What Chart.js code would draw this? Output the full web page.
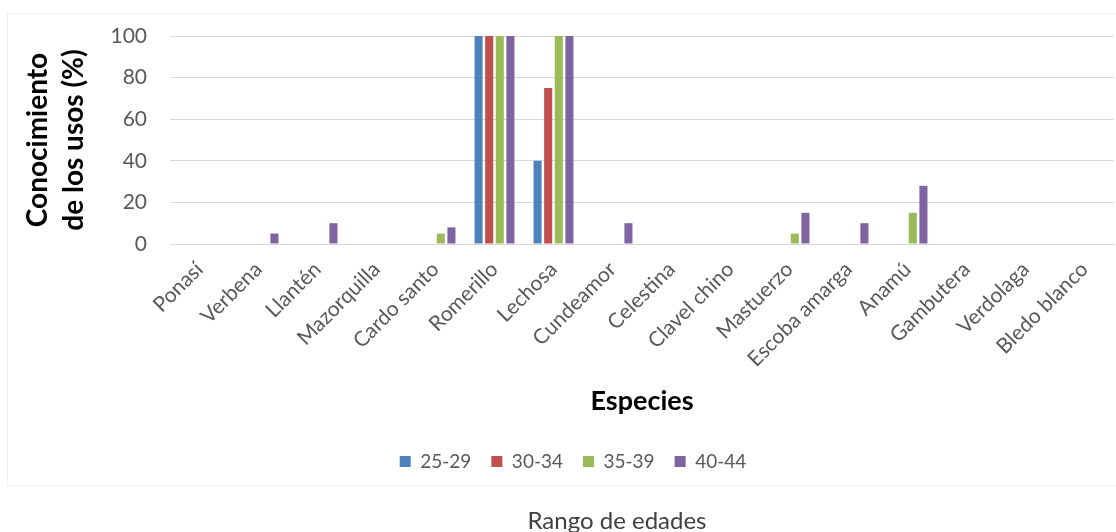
<!DOCTYPE html>
<html lang="es">
<head>
<meta charset="utf-8">
<title>Conocimiento de los usos por especie</title>
<script src="https://cdn.jsdelivr.net/npm/chart.js@4/dist/chart.umd.min.js"></script>
<style>
  html, body { margin: 0; padding: 0; background: #ffffff; }
  body { width: 1116px; height: 532px; position: relative; overflow: hidden; font-family: Lato, "Open Sans", sans-serif; }
  #frame { position: absolute; left: 7px; top: 13px; width: 1120px; height: 471px; border: 1px solid #efefef; background: #ffffff; }
  #chart { position: absolute; left: 0; top: 0; }
  #footer { position: absolute; left: 507px; width: 220px; top: 506px; text-align: center; font-size: 24px; color: #404040; line-height: 28px; }
</style>
</head>
<body>
<div id="frame"></div>
<canvas id="chart" width="1116" height="532"></canvas>
<div id="footer">Rango de edades</div>
<script>
// Species surveyed
const especies = ['Ponasí', 'Verbena', 'Llantén', 'Mazorquilla', 'Cardo santo', 'Romerillo', 'Lechosa',
  'Cundeamor', 'Celestina', 'Clavel chino', 'Mastuerzo', 'Escoba amarga', 'Anamú', 'Gambutera',
  'Verdolaga', 'Bledo blanco'];

// Knowledge of uses (%) by age range
const edad25_29 = [0, 0, 0, 0, 0, 100, 40, 0, 0, 0, 0, 0, 0, 0, 0, 0];
const edad30_34 = [0, 0, 0, 0, 0, 100, 75, 0, 0, 0, 0, 0, 0, 0, 0, 0];
const edad35_39 = [0, 0, 0, 0, 5, 100, 100, 0, 0, 0, 5, 0, 15, 0, 0, 0];
const edad40_44 = [0, 5, 10, 0, 8, 100, 100, 10, 0, 0, 15, 10, 28, 0, 0, 0];

const rangos = ['25-29', '30-34', '35-39', '40-44'];
const yTicks = [0, 20, 40, 60, 80, 100];

const colores = ['#4F81BD', '#C0504D', '#9BBB59', '#8064A2'];
const series = [edad25_29, edad30_34, edad35_39, edad40_44];

const gris = '#595959';
const fuente = 'Lato, "Open Sans", sans-serif';

new Chart(document.getElementById('chart'), {
  type: 'bar',
  data: {
    labels: especies,
    datasets: series.map((valores, i) => ({
      label: rangos[i],
      data: valores,
      backgroundColor: colores[i],
      borderWidth: 0,
      categoryPercentage: 0.72,
      barPercentage: 0.76
    }))
  },
  options: {
    responsive: false,
    animation: false,
    devicePixelRatio: 1,
    layout: { padding: { left: 32, right: 2, top: 36, bottom: 51 } },
    plugins: {
      tooltip: { enabled: false },
      legend: {
        position: 'bottom',
        labels: {
          boxWidth: 11,
          boxHeight: 11,
          padding: 20,
          color: gris,
          font: { family: fuente, size: 19 }
        }
      }
    },
    scales: {
      x: {
        grid: { display: false, drawTicks: false },
        border: { display: true, color: '#d9d9d9' },
        ticks: {
          autoSkip: false,
          minRotation: 45,
          maxRotation: 45,
          padding: 13,
          color: gris,
          font: { family: fuente, size: 21 }
        },
        title: {
          display: true,
          text: 'Especies',
          color: '#000000',
          font: { family: fuente, size: 27, weight: 'bold' },
          padding: { top: 0, bottom: 15 }
        },
        afterFit: (scale) => { scale.height = 188; }
      },
      y: {
        min: 0,
        max: 100,
        afterBuildTicks: (scale) => { scale.ticks = yTicks.map(v => ({ value: v })); },
        grid: { color: '#d9d9d9', drawTicks: false },
        border: { display: false },
        ticks: {
          padding: 23,
          color: gris,
          font: { family: fuente, size: 21 }
        },
        title: {
          display: true,
          text: ['Conocimiento', 'de los usos (%)'],
          color: '#000000',
          font: { family: fuente, size: 28, weight: 'bold', lineHeight: '36px' },
          padding: { top: -12, bottom: 0 }
        },
        afterFit: (scale) => { scale.width = 138; }
      }
    }
  }
});
</script>
</body>
</html>
